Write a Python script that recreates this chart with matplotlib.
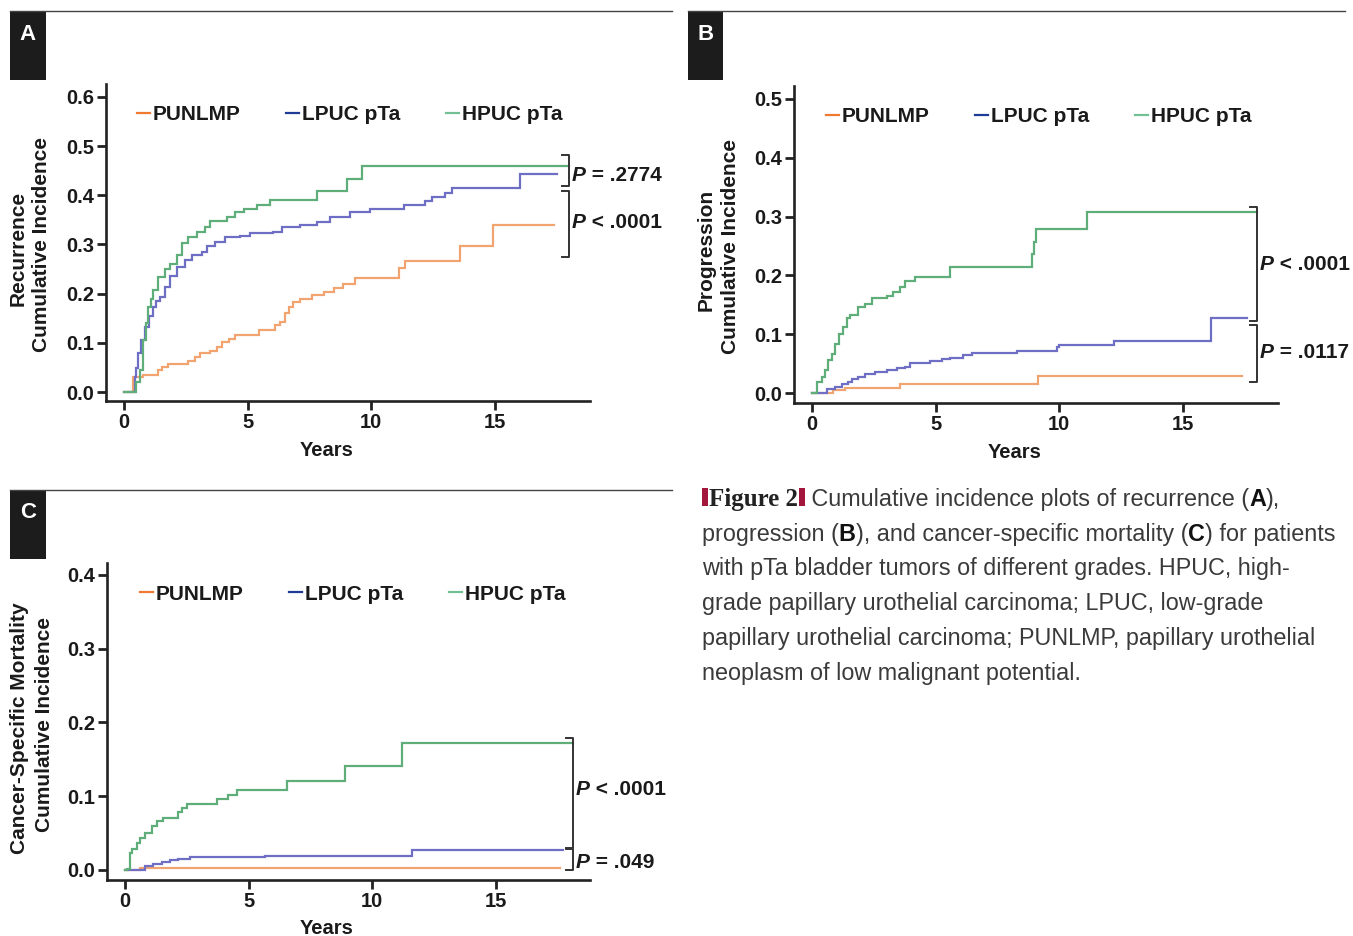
import matplotlib
matplotlib.use('Agg')
import matplotlib.pyplot as plt
from matplotlib.lines import Line2D
from matplotlib.patches import Rectangle

plt.rcParams['font.family'] = ['Liberation Sans', 'DejaVu Sans']

W, H = 1353, 936

groups = ['PUNLMP', 'LPUC pTa', 'HPUC pTa']
line_colors = ['#f2a470', '#6e6ec4', '#5fae7a']
legend_colors = ['#f07a32', '#1e3c96', '#72c093']

# --- panel A: recurrence (time in years, cumulative incidence) ---
a_pun_t = [0, 0.38, 0.78, 1.39, 1.52, 1.79, 2.6, 2.87, 3.07, 3.48, 3.75, 3.96, 4.23, 4.5, 5.45,
           6.1, 6.3, 6.5, 6.65, 6.85, 7.12, 7.6, 8.07, 8.5, 8.87, 9.34, 11.1, 11.36, 13.6, 14.91, 17.4]
a_pun_v = [0, 0.03, 0.035, 0.045, 0.051, 0.057, 0.064, 0.071, 0.079, 0.084, 0.091, 0.102, 0.107, 0.116, 0.127,
           0.136, 0.142, 0.16, 0.173, 0.183, 0.19, 0.197, 0.204, 0.211, 0.22, 0.231, 0.252, 0.267, 0.297, 0.34, 0.34]
a_lpuc_t = [0, 0.3, 0.44, 0.5, 0.58, 0.7, 0.85, 1.0, 1.18, 1.3, 1.46, 1.66, 1.86, 2.13, 2.47, 2.74, 3.14, 3.34,
            3.68, 4.08, 4.69, 5.1, 6.04, 6.38, 7.12, 7.8, 8.33, 9.14, 9.95, 11.3, 12.17, 12.44, 12.98, 13.25, 15.99, 17.5]
a_lpuc_v = [0, 0.0, 0.03, 0.05, 0.079, 0.105, 0.133, 0.155, 0.173, 0.185, 0.194, 0.214, 0.235, 0.255, 0.269, 0.279,
            0.285, 0.296, 0.306, 0.315, 0.317, 0.323, 0.326, 0.335, 0.34, 0.346, 0.355, 0.365, 0.373, 0.38, 0.389,
            0.397, 0.405, 0.414, 0.443, 0.443]
a_hpuc_t = [0, 0.3, 0.5, 0.65, 0.78, 0.88, 0.98, 1.08, 1.18, 1.39, 1.66, 1.86, 2.13, 2.33, 2.6, 2.94, 3.28, 3.48,
            4.16, 4.5, 4.83, 5.37, 5.91, 7.8, 9.0, 9.61, 18.0]
a_hpuc_v = [0, 0.0, 0.02, 0.045, 0.106, 0.14, 0.173, 0.19, 0.207, 0.234, 0.251, 0.261, 0.278, 0.302, 0.316, 0.326,
            0.336, 0.348, 0.355, 0.365, 0.373, 0.38, 0.39, 0.409, 0.432, 0.459, 0.459]

# --- panel B: progression ---
b_pun_t = [0, 0.86, 1.33, 3.56, 9.15, 17.4]
b_pun_v = [0, 0.005, 0.009, 0.016, 0.029, 0.029]
b_lpuc_t = [0, 0.46, 0.59, 0.93, 1.2, 1.47, 1.6, 1.87, 2.14, 2.55, 3.02, 3.42, 3.76, 3.96, 4.77, 5.24, 5.58,
            6.12, 6.45, 8.27, 9.89, 10.0, 12.2, 16.14, 17.6]
b_lpuc_v = [0, 0.0, 0.006, 0.011, 0.015, 0.019, 0.023, 0.028, 0.032, 0.036, 0.039, 0.042, 0.045, 0.051, 0.054,
            0.057, 0.06, 0.064, 0.068, 0.071, 0.079, 0.082, 0.089, 0.128, 0.128]
b_hpuc_t = [0, 0.05, 0.19, 0.39, 0.53, 0.66, 0.8, 0.93, 1.07, 1.27, 1.4, 1.54, 1.87, 2.14, 2.41, 3.02, 3.29,
            3.56, 3.76, 4.17, 5.58, 8.88, 8.98, 9.06, 11.1, 18.0]
b_hpuc_v = [0, 0.0, 0.019, 0.028, 0.039, 0.056, 0.067, 0.084, 0.101, 0.113, 0.127, 0.133, 0.147, 0.152, 0.161,
            0.165, 0.172, 0.181, 0.191, 0.198, 0.215, 0.237, 0.257, 0.279, 0.308, 0.308]

# --- panel C: cancer-specific mortality ---
c_pun_t = [0, 0.6, 17.6]
c_pun_v = [0, 0.002, 0.002]
c_lpuc_t = [0, 0.74, 0.81, 1.14, 1.48, 1.82, 2.16, 2.63, 5.66, 11.6, 17.7]
c_lpuc_v = [0, 0.0, 0.006, 0.008, 0.011, 0.013, 0.015, 0.018, 0.0195, 0.027, 0.027]
c_hpuc_t = [0, 0.07, 0.18, 0.27, 0.47, 0.61, 0.81, 1.08, 1.28, 1.55, 2.16, 2.29, 2.49, 3.71, 4.18, 4.52,
            6.54, 8.9, 11.19, 18.1]
c_hpuc_v = [0, 0.001, 0.023, 0.028, 0.036, 0.043, 0.05, 0.059, 0.066, 0.07, 0.079, 0.084, 0.09, 0.096, 0.102,
            0.109, 0.121, 0.141, 0.172, 0.172]

p_text_a = [('=', '.2774'), ('<', '.0001')]
p_text_b = [('<', '.0001'), ('=', '.0117')]
p_text_c = [('<', '.0001'), ('=', '.049')]


def fx(px):
    return px / W


def fy(py):
    return 1 - py / H


fig = plt.figure(figsize=(W / 100, H / 100), dpi=100)
renderer = fig.canvas.get_renderer()


def text_width(s, **kw):
    t = fig.text(0, 0, '|' + s + '|', **kw)
    w1 = t.get_window_extent(renderer).width
    t.set_text('||')
    w2 = t.get_window_extent(renderer).width
    t.remove()
    return w1 - w2


def runs(x, y, parts, **common):
    # draw text pieces one after another, x/y in pixels (y from top, baseline)
    for s, kw in parts:
        props = dict(common)
        props.update(kw)
        fig.text(fx(x), fy(y), s, ha='left', va='baseline', **props)
        x += text_width(s, **props)
    return x


def panel_axes(left, top, right, bottom):
    return fig.add_axes([fx(left), fy(bottom), (right - left) / W, (bottom - top) / H])


def style(ax, xlim, ylim, yticks, label_x, label_top, spine_bottom, spine_height):
    ax.set_xlim(xlim)
    ax.set_ylim(ylim)
    ax.set_facecolor('none')
    for s in ['top', 'right']:
        ax.spines[s].set_visible(False)
    for s in ['left', 'bottom']:
        ax.spines[s].set_linewidth(1.9)
        ax.spines[s].set_color('#222222')
    ax.set_xticks([0, 5, 10, 15])
    ax.set_yticks(yticks)
    ax.set_yticklabels([f'{v:.1f}' for v in yticks])
    ax.tick_params(direction='out', length=6.3, width=2.0, color='#222222', labelsize=14.5, pad=2.5,
                   labelcolor='#1a1a1a')
    for lab in ax.get_xticklabels() + ax.get_yticklabels():
        lab.set_fontweight('bold')
    ax.set_xlabel('Years', fontsize=14.5, fontweight='bold', color='#1a1a1a')
    ax.xaxis.set_label_coords(label_x, -(label_top - spine_bottom) / spine_height)


def curves(ax, series):
    for (t, v), c in zip(series, line_colors):
        ax.step(t, v, where='post', color=c, lw=1.6, solid_joinstyle='miter')


def bracket(ax, x, y0, y1):
    ax.plot([x - 0.28, x, x, x - 0.28], [y0, y0, y1, y1], color='#333333', lw=1.4, clip_on=False)


def legend(ax, x, y):
    handles = [Line2D([], [], color=c, lw=1.6) for c in legend_colors]
    ax.legend(handles, groups, loc='center left', bbox_to_anchor=(fx(x), fy(y)),
              bbox_transform=fig.transFigure, ncol=3, frameon=False, handlelength=0.6,
              handletextpad=0.15, columnspacing=2.2, borderpad=0, borderaxespad=0,
              prop={'size': 15, 'weight': 'bold'}, labelcolor='#1a1a1a')


def p_label(x, y, op, val):
    runs(x, y, [('P', {'fontstyle': 'italic'}), (f' {op} {val}', {})],
         fontsize=15, fontweight='bold', color='#1a1a1a')


def panel_box(x0, y0, x1, letter, line_end):
    fig.add_artist(Line2D([fx(x0), fx(line_end)], [fy(y0), fy(y0)], color='#444444', lw=1.0))
    fig.add_artist(Rectangle((fx(x0), fy(y0 + 69)), (x1 - x0) / W, 69 / H, color='#1c1c1c', lw=0))
    fig.text(fx((x0 + x1) / 2), fy(y0 + 23), letter, ha='center', va='center', color='white',
             fontsize=16, fontweight='bold')


def ylabel2(x1, x2, y, top_line):
    fig.text(fx(x1), fy(y), top_line, rotation=90, ha='center', va='center', fontsize=15,
             fontweight='bold', color='#1a1a1a')
    fig.text(fx(x2), fy(y - 3), 'Cumulative Incidence', rotation=90, ha='center', va='center',
             fontsize=15, fontweight='bold', color='#1a1a1a')


# Panel A
axA = panel_axes(106, 84, 590, 401)
style(axA, (-0.73, 18.84), (-0.018, 0.626), [0, 0.1, 0.2, 0.3, 0.4, 0.5, 0.6], 0.455, 441, 401, 317)
curves(axA, [(a_pun_t, a_pun_v), (a_lpuc_t, a_lpuc_v), (a_hpuc_t, a_hpuc_v)])
bracket(axA, 18.0, 0.481, 0.418)
bracket(axA, 18.0, 0.409, 0.275)
legend(axA, 137, 115)
p_label(572, 181, *p_text_a[0])
p_label(572, 228, *p_text_a[1])
panel_box(10, 11, 46, 'A', 672)
ylabel2(18, 42, 248, 'Recurrence')

# Panel B
axB = panel_axes(794, 86, 1278, 403)
style(axB, (-0.73, 18.84), (-0.017, 0.522), [0, 0.1, 0.2, 0.3, 0.4, 0.5], 0.455, 443, 403, 317)
curves(axB, [(b_pun_t, b_pun_v), (b_lpuc_t, b_lpuc_v), (b_hpuc_t, b_hpuc_v)])
bracket(axB, 18.0, 0.316, 0.122)
bracket(axB, 18.0, 0.116, 0.019)
legend(axB, 826, 117)
p_label(1260, 270, *p_text_b[0])
p_label(1260, 358, *p_text_b[1])
panel_box(688, 11, 723, 'B', 1345)
ylabel2(706, 731, 250, 'Progression')

# Panel C
axC = panel_axes(107, 563, 590, 880)
style(axC, (-0.73, 18.8), (-0.0136, 0.416), [0, 0.1, 0.2, 0.3, 0.4], 0.455, 919, 880, 317)
curves(axC, [(c_pun_t, c_pun_v), (c_lpuc_t, c_lpuc_v), (c_hpuc_t, c_hpuc_v)])
bracket(axC, 18.1, 0.1786, 0.030)
bracket(axC, 18.1, 0.028, 0.0)
legend(axC, 140, 594)
p_label(576, 795, *p_text_c[0])
p_label(576, 868, *p_text_c[1])
panel_box(10, 490, 46, 'C', 672)
ylabel2(20, 44, 728, 'Cancer-Specific Mortality')

# Caption
cap = dict(fontsize=16.8, color='#3a3a3a')
bold = {'fontweight': 'bold', 'color': '#111111'}
red = '#a3173d'
fig.add_artist(Rectangle((fx(702), fy(506)), 6 / W, 18 / H, color=red, lw=0))
xe = runs(709, 506, [('Figure 2', {'family': ['Liberation Serif', 'DejaVu Serif'], 'fontweight': 'bold',
                                  'fontsize': 18, 'color': '#222222'})])
fig.add_artist(Rectangle((fx(xe + 1), fy(506)), 6 / W, 18 / H, color=red, lw=0))
runs(xe + 7, 506, [(' Cumulative incidence plots of recurrence (', {}), ('A', bold), ('),', {})], **cap)
runs(702, 541, [('progression (', {}), ('B', bold), ('), and cancer-specific mortality (', {}),
                ('C', bold), (') for patients', {})], **cap)
caption_lines = ['with pTa bladder tumors of different grades. HPUC, high-',
                 'grade papillary urothelial carcinoma; LPUC, low-grade',
                 'papillary urothelial carcinoma; PUNLMP, papillary urothelial',
                 'neoplasm of low malignant potential.']
for i, line in enumerate(caption_lines):
    runs(702, 575.5 + 34.7 * i, [(line, {})], **cap)

fig.savefig('out.png', dpi=100)
